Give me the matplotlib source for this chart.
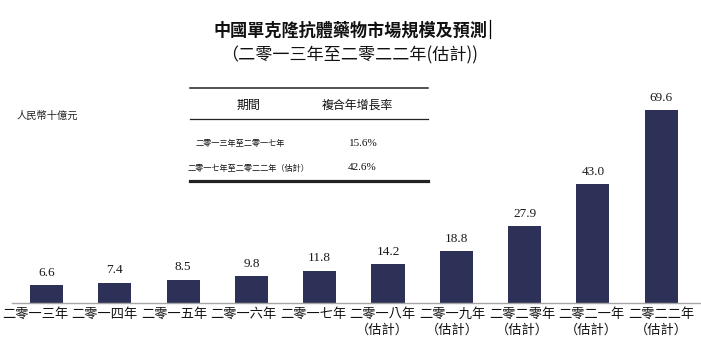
import matplotlib
matplotlib.use("Agg")
import matplotlib.pyplot as plt
from matplotlib.lines import Line2D

# ---- data -------------------------------------------------------------
years = ["二零一三年", "二零一四年", "二零一五年", "二零一六年", "二零一七年",
         "二零一八年\n（估計）", "二零一九年\n（估計）", "二零二零年\n（估計）",
         "二零二一年\n（估計）", "二零二二年\n（估計）"]
market_size = [6.6, 7.4, 8.5, 9.8, 11.8, 14.2, 18.8, 27.9, 43.0, 69.6]

cagr_periods = ["二零一三年至二零一七年", "二零一七年至二零二二年（估計）"]
cagr_values = ["15.6%", "42.6%"]
cagr_header = ["期間", "複合年增長率"]

title = "中國單克隆抗體藥物市場規模及預測"
subtitle = "（二零一三年至二零二二年(估計))"
unit = "人民幣十億元"

# ---- style ------------------------------------------------------------
CJK = ["Noto Sans CJK TC", "DejaVu Sans"]
SERIF = ["Liberation Serif", "DejaVu Serif"]
BAR_COLOR = "#2d3057"
W, H = 701, 341

fig = plt.figure(figsize=(W / 100, H / 100), dpi=100)
fig.patch.set_facecolor("white")


def fx(px):
    return px / W


def fy(py):
    return 1 - py / H


# main bar axes
ax_pos = [fx(12), fy(303.3), fx(700) - fx(12), fy(0) - fy(303.3)]
ax = fig.add_axes(ax_pos)
x = list(range(len(market_size)))
ax.bar(x, market_size, width=0.485, color=BAR_COLOR, zorder=2)
ax.set_xlim(-0.505, 9.568)
ax.set_ylim(0, 109.2)
for s in ["top", "left", "right"]:
    ax.spines[s].set_visible(False)
ax.spines["bottom"].set_color("#a6a6a6")
ax.spines["bottom"].set_linewidth(1.0)
ax.set_yticks([])
ax.set_xticks([])
ax.patch.set_alpha(0)

for xi, v in zip(x, market_size):
    ax.annotate(f"{v:.1f}", (xi, v), xytext=(0, 4.5), textcoords="offset points",
                ha="center", va="bottom", fontsize=9.5, family=SERIF, color="#1a1a1a")

# category labels on their own scale
lab = fig.add_axes(ax_pos, frameon=False)
lab.set_xlim(-0.331, 9.561)
lab.set_ylim(0, 1)
lab.set_yticks([])
lab.set_xticks(x)
lab.set_xticklabels(years, fontsize=9.5, family=CJK, linespacing=1.25,
                    color="#111111")
lab.tick_params(axis="x", length=0, pad=3.5)
lab.patch.set_alpha(0)

# titles
fig.text(fx(351), fy(31), title, ha="center", va="center", fontsize=12.3,
         family=CJK, weight="bold", color="#111111")
fig.text(fx(350), fy(55), subtitle, ha="center", va="center", fontsize=12.3,
         family=CJK, color="#111111")
fig.add_artist(Line2D([fx(490), fx(490)], [fy(20), fy(38)], color="black",
                      lw=0.9))

# unit
fig.text(fx(17), fy(116), unit, ha="left", va="center", fontsize=7.4,
         family=CJK, color="#222222")

# CAGR table
fig.add_artist(Line2D([fx(190), fx(428)], [fy(88.3), fy(88.3)], color="#222222", lw=1.1))
fig.add_artist(Line2D([fx(190), fx(428)], [fy(119.3), fy(119.3)], color="#222222", lw=0.9))
fig.add_artist(Line2D([fx(190), fx(428)], [fy(180.5), fy(180.5)], color="#222222", lw=2.3))

fig.text(fx(248), fy(105), cagr_header[0], ha="center", va="center",
         fontsize=8.6, family=CJK, color="#111111")
fig.text(fx(357), fy(105), cagr_header[1], ha="center", va="center",
         fontsize=8.6, family=CJK, color="#111111")

row_y = [143, 168]
row_x = [240.5, 248]
val_x = [363.5, 362]
for label, val, yy, lx, vx in zip(cagr_periods, cagr_values, row_y, row_x, val_x):
    fig.text(fx(lx), fy(yy), label, ha="center", va="center", fontsize=5.9,
             family=CJK, color="#111111")
    fig.text(fx(vx), fy(yy), val, ha="center", va="center", fontsize=8.0,
             family=SERIF, color="#111111")

fig.savefig("out.png", dpi=100, facecolor="white")
